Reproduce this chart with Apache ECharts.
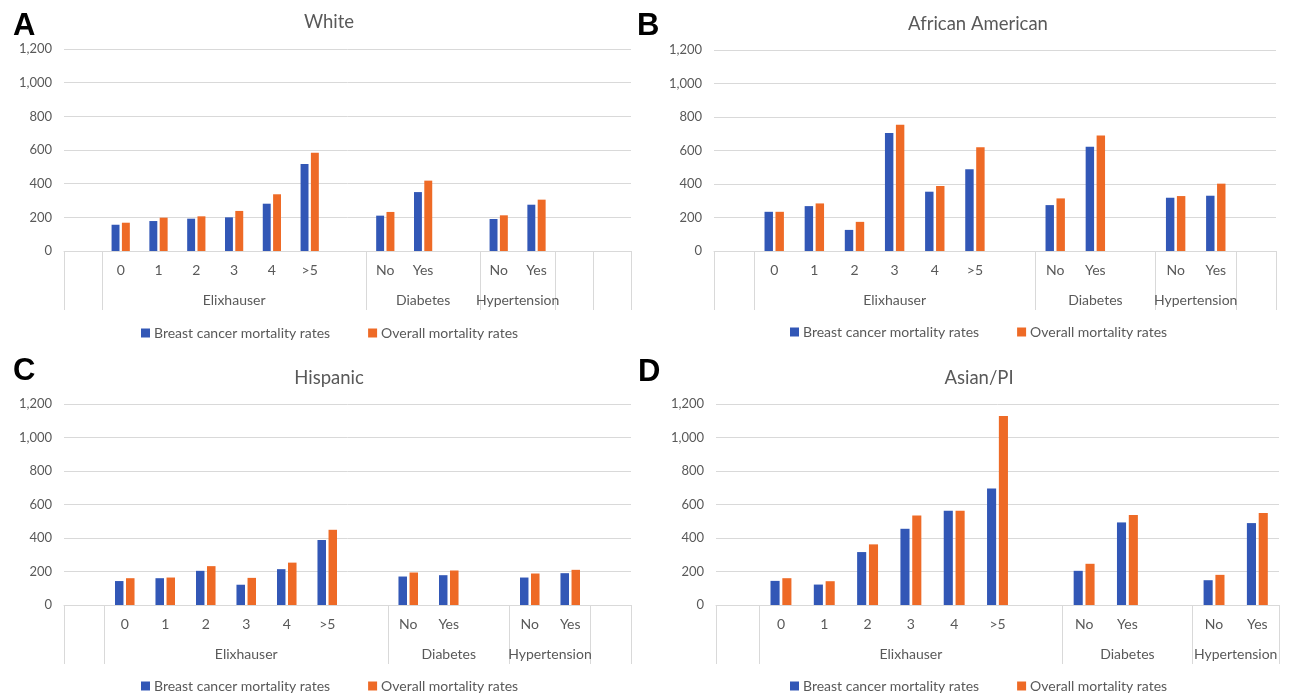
<!DOCTYPE html>
<html>
<head>
<meta charset="utf-8">
<script src="https://cdn.jsdelivr.net/npm/echarts@6/dist/echarts.min.js"></script>
<style>
html,body{margin:0;padding:0;background:#fff;}
#chart{width:1289px;height:695px;}
</style>
</head>
<body>
<div id="chart"></div>
<script>
// ---- data ----
const subLabels = ['0','1','2','3','4','>5','No','Yes','No','Yes'];
const groupNames = ['Elixhauser','Diabetes','Hypertension'];
const groupSizes = [6, 2, 2];
const seriesNames = ['Breast cancer mortality rates', 'Overall mortality rates'];
const yTicks = [0, 200, 400, 600, 800, 1000, 1200];

const whiteBreast  = [156, 178, 192, 200, 281, 517, 210, 350, 190, 275];
const whiteOverall = [168, 198, 206, 238, 337, 584, 232, 418, 212, 305];
const afamBreast   = [234, 268, 126, 704, 354, 488, 274, 622, 318, 330];
const afamOverall  = [234, 284, 174, 754, 388, 620, 314, 690, 328, 402];
const hispBreast   = [143, 160, 204, 121, 214, 388, 170, 178, 164, 190];
const hispOverall  = [160, 164, 232, 162, 253, 449, 194, 206, 188, 210];
const asianBreast  = [144, 122, 316, 455, 562, 695, 204, 493, 148, 489];
const asianOverall = [160, 142, 362, 534, 562, 1128, 246, 538, 180, 550];

// ---- layout (Excel-style multi-level axis with empty slots) ----
const panels = [
  {letter:'A', title:'White', breast: whiteBreast, overall: whiteOverall, trailing:2,
   grid:{left:64, top:49, width:567, height:202}, titleX:329, titleY:22, letterX:13, letterY:26, legendX:141, legendY:326},
  {letter:'B', title:'African American', breast: afamBreast, overall: afamOverall, trailing:1,
   grid:{left:714, top:50, width:562, height:201}, titleX:978, titleY:24, letterX:637, letterY:26, legendX:790, legendY:325},
  {letter:'C', title:'Hispanic', breast: hispBreast, overall: hispOverall, trailing:1,
   grid:{left:64, top:404, width:567, height:201}, titleX:329, titleY:378, letterX:13, letterY:371, legendX:141, legendY:679},
  {letter:'D', title:'Asian/PI', breast: asianBreast, overall: asianOverall, trailing:0,
   grid:{left:716, top:404, width:563, height:201}, titleX:979, titleY:378, letterX:638, letterY:372, legendX:790, legendY:679}
];
const groupBlankAfter = [1, 1, 0];

function buildSlots(trailing) {
  const cats = [''];
  const map = [null];
  const bounds = [0, 1];
  const centers = [];
  let k = 0;
  groupSizes.forEach((n, g) => {
    const start = cats.length;
    for (let i = 0; i < n; i++) { cats.push(subLabels[k]); map.push(k); k++; }
    for (let b = 0; b < groupBlankAfter[g]; b++) { cats.push(''); map.push(null); }
    const end = cats.length;
    bounds.push(end);
    centers.push({v: (start + end) / 2, name: groupNames[g]});
  });
  for (let t = 0; t < trailing; t++) { cats.push(''); map.push(null); bounds.push(cats.length); }
  return {cats, map, bounds: Array.from(new Set(bounds)), centers, n: cats.length};
}

const FONT = 'Lato, "Open Sans", sans-serif';
const TXT = '#595959';
const GRIDC = '#d9d9d9';
const BLUE = '#3257b6';
const ORANGE = '#ee6a26';

const option = {
  animation: false,
  backgroundColor: '#fff',
  textStyle: {fontFamily: FONT},
  grid: [], xAxis: [], yAxis: [], series: [], legend: [], graphic: []
};

panels.forEach((p, i) => {
  const s = buildSlots(p.trailing);
  const g = Object.assign({}, p.grid);
  option.grid.push(Object.assign({containLabel:false}, g));
  option.grid.push(Object.assign({containLabel:false}, g));
  const gMain = i * 2, gSec = i * 2 + 1;

  option.xAxis.push({
    type: 'category', gridIndex: gMain, data: s.cats,
    axisTick: {show: false},
    axisLine: {lineStyle: {color: GRIDC, width: 1}},
    axisLabel: {interval: 0, margin: 12, color: TXT, fontSize: 14, fontFamily: FONT}
  });
  option.yAxis.push({
    type: 'value', gridIndex: gMain, min: 0, max: 1200, interval: 200,
    axisLine: {show: false}, axisTick: {show: false},
    axisLabel: {color: TXT, fontSize: 13, margin: 12, fontFamily: FONT,
      formatter: v => Number(v).toLocaleString('en-US')},
    splitLine: {lineStyle: {color: GRIDC, width: 1}}
  });
  const centerMap = {};
  s.centers.forEach(c => { centerMap[c.v] = c.name; });
  option.xAxis.push({
    type: 'value', gridIndex: gSec, min: 0, max: s.n, position: 'bottom',
    axisLine: {show: false}, splitLine: {show: false},
    axisTick: {show: true, customValues: s.bounds, length: 59, lineStyle: {color: GRIDC, width: 1}},
    axisLabel: {customValues: s.centers.map(c => c.v), margin: 42, color: TXT, fontSize: 14, fontFamily: FONT,
      showMinLabel: true, showMaxLabel: true, hideOverlap: false,
      formatter: v => centerMap[v] || ''}
  });
  option.yAxis.push({type: 'value', gridIndex: gSec, min: 0, max: 1, show: false});

  const mk = arr => s.map.map(ix => ix === null ? null : arr[ix]);
  option.series.push({
    name: seriesNames[0], type: 'bar', xAxisIndex: gMain, yAxisIndex: gMain,
    data: mk(p.breast), barWidth: '21%', barGap: '30%', itemStyle: {color: BLUE}
  });
  option.series.push({
    name: seriesNames[1], type: 'bar', xAxisIndex: gMain, yAxisIndex: gMain,
    data: mk(p.overall), barWidth: '21%', barGap: '30%', itemStyle: {color: ORANGE}
  });

  option.legend.push({
    data: seriesNames, left: p.legendX, top: p.legendY, padding: 0,
    itemWidth: 9, itemHeight: 9, itemGap: 38,
    icon: 'rect', selectedMode: false,
    textStyle: {color: TXT, fontSize: 14, fontFamily: FONT, padding: [0, 0, 0, -1]}
  });

  option.graphic.push({
    type: 'text', x: p.titleX, y: p.titleY,
    style: {text: p.title, textAlign: 'center', textVerticalAlign: 'middle',
      fill: TXT, font: '18.5px ' + FONT}
  });
  option.graphic.push({
    type: 'text', x: p.letterX, y: p.letterY,
    style: {text: p.letter, textAlign: 'left', textVerticalAlign: 'middle',
      fill: '#000', font: 'bold 31px "Liberation Sans", Arial, sans-serif'}
  });
});

const chart = echarts.init(document.getElementById('chart'));
chart.setOption(option);
</script>
</body>
</html>
